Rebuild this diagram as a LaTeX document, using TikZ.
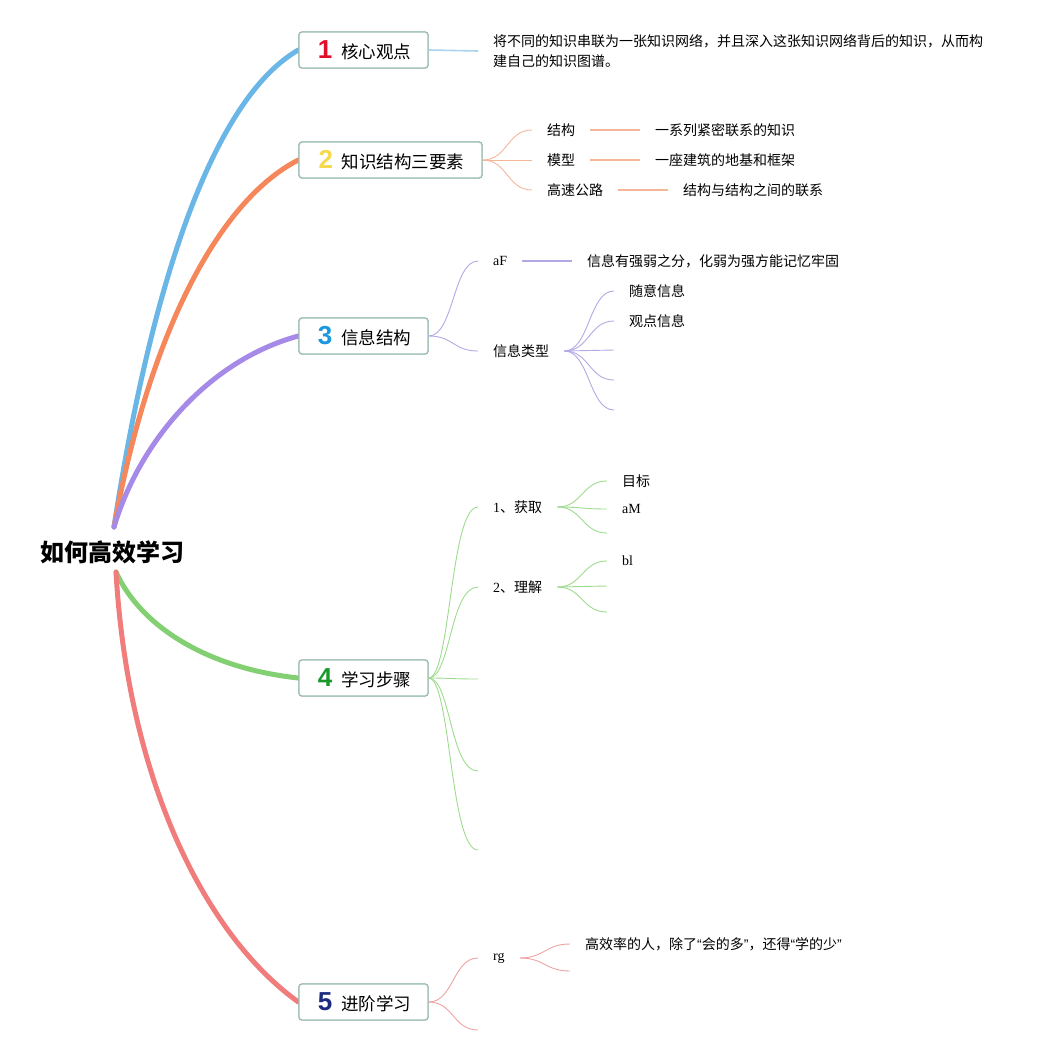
\documentclass[tikz,border=0pt]{standalone}
\usepackage{fontspec}
\setmainfont{Noto Sans CJK SC}
\newfontfamily\latf{Liberation Serif}
\newfontfamily\numf{Liberation Sans}
\definecolor{boxc}{HTML}{9DBFB4}
\definecolor{cb}{HTML}{6AB6E6}
\definecolor{co}{HTML}{F5875A}
\definecolor{cp}{HTML}{A68AE8}
\definecolor{cg}{HTML}{82D072}
\definecolor{cr}{HTML}{F07C7C}
\definecolor{tb}{HTML}{A9D3EE}
\definecolor{to}{HTML}{F5B698}
\definecolor{tp}{HTML}{B4A8E4}
\definecolor{tg}{HTML}{9EDB8E}
\definecolor{tr}{HTML}{F0A2A2}
\definecolor{n1c}{HTML}{E0102A}
\definecolor{n2c}{HTML}{F6D84C}
\definecolor{n3c}{HTML}{1A98DD}
\definecolor{n4c}{HTML}{1A9A2C}
\definecolor{n5c}{HTML}{1C2A80}
\tikzset{
  mainbox/.style={draw=boxc, line width=1.3pt, rounded corners=3pt, fill=white,
    minimum height=36pt, minimum width=129pt, inner sep=0pt,
    font=\fontsize{17.5}{20}\selectfont},
  leaf/.style={anchor=west, inner xsep=15pt, inner ysep=2pt, font=\fontsize{14}{20}\selectfont},
  thick branch/.style={line width=5pt, line cap=round},
  twig/.style={line width=0.9pt},
  bar/.style={line width=1.6pt},
}
\newcommand{\numlab}[2]{\hspace*{2pt}{\numf\bfseries\fontsize{26}{26}\selectfont\textcolor{#1}{#2}}\hspace{9pt}}
\newcommand{\myopq}{{\numf “}}
\newcommand{\myclq}{{\numf ”}}
\begin{document}
\begin{tikzpicture}[x=1pt,y=-1pt]
\useasboundingbox (0,0) rectangle (1053,1055);
% root
\node[font=\bfseries\fontsize{24}{28}\selectfont, inner sep=0pt] (root) at (112.5,552) {如何高效学习};
\coordinate (rup) at (114,527);
\coordinate (rdn) at (116,572);
% main nodes (positions)
\node[mainbox] (n1) at (363.5,50) {\numlab{n1c}{1}核心观点};
\node[mainbox, minimum width=183pt] (n2) at (390.5,160) {\numlab{n2c}{2}知识结构三要素};
\node[mainbox] (n3) at (363.5,336) {\numlab{n3c}{3}信息结构};
\node[mainbox] (n4) at (363.5,678) {\numlab{n4c}{4}学习步骤};
\node[mainbox] (n5) at (363.5,1002) {\numlab{n5c}{5}进阶学习};
% main curves
\draw[thick branch, cb] (rup) .. controls (155,260) and (220,95) .. (n1.west);
\draw[thick branch, co] (rup) .. controls (150,330) and (220,200) .. (n2.west);
\draw[thick branch, cp] (rup) .. controls (140,440) and (210,360) .. (n3.west);
\draw[thick branch, cg] (rdn) .. controls (140,625) and (205,668) .. (n4.west);
\draw[thick branch, cr] (rdn) .. controls (128,780) and (205,935) .. (n5.west);
% redraw boxes on top of curve ends
\node[mainbox] at (n1) {\numlab{n1c}{1}核心观点};
\node[mainbox, minimum width=183pt] at (n2) {\numlab{n2c}{2}知识结构三要素};
\node[mainbox] at (n3) {\numlab{n3c}{3}信息结构};
\node[mainbox] at (n4) {\numlab{n4c}{4}学习步骤};
\node[mainbox] at (n5) {\numlab{n5c}{5}进阶学习};
% ---- 1
\node[leaf, align=left] (t1) at (478,51) {将不同的知识串联为一张知识网络，并且深入这张知识网络背后的知识，从而构\\建自己的知识图谱。};
\draw[bar, tb] (n1.east) -- (t1.west);
% ---- 2
\node[leaf] (jg) at (532,130) {结构};
\node[leaf] (mx) at (532,160) {模型};
\node[leaf] (gs) at (532,190) {高速公路};
\node[leaf] (jgd) at (640,130) {一系列紧密联系的知识};
\node[leaf] (mxd) at (640,160) {一座建筑的地基和框架};
\node[leaf] (gsd) at (668,190) {结构与结构之间的联系};
\foreach \t in {jg,mx,gs}
  \draw[twig, to] (n2.east) .. controls +(25,0) and +(-25,0) .. (\t.west);
\draw[bar, to] (jg.east) -- (jgd.west);
\draw[bar, to] (mx.east) -- (mxd.west);
\draw[bar, to] (gs.east) -- (gsd.west);
% ---- 3
\node[leaf, font=\latf\fontsize{14}{20}\selectfont] (af) at (478,261) {aF};
\node[leaf] (afd) at (572,261) {信息有强弱之分，化弱为强方能记忆牢固};
\node[leaf] (lx) at (478,351) {信息类型};
\draw[twig, tp] (n3.east) .. controls +(25,0) and +(-25,0) .. (af.west);
\draw[twig, tp] (n3.east) .. controls +(25,0) and +(-25,0) .. (lx.west);
\draw[bar, tp] (af.east) -- (afd.west);
\node[leaf] (sy) at (614,291) {随意信息};
\node[leaf] (gd) at (614,321) {观点信息};
\coordinate (p3) at (614,350);
\coordinate (p4) at (614,380);
\coordinate (p5) at (614,410);
\foreach \t in {sy.west,gd.west,p3,p4,p5}
  \draw[twig, tp] (lx.east) .. controls +(25,0) and +(-25,0) .. (\t);
% ---- 4
\node[leaf] (hq) at (478,507) {{\latf 1}、获取};
\node[leaf] (lj) at (478,587) {{\latf 2}、理解};
\coordinate (q3) at (478,679);
\coordinate (q4) at (478,771);
\coordinate (q5) at (478,850);
\foreach \t in {hq.west,lj.west,q3,q4,q5}
  \draw[twig, tg] (n4.east) .. controls +(22,0) and +(-28,0) .. (\t);
\node[leaf] (mb) at (607,481) {目标};
\node[leaf, font=\latf\fontsize{14}{20}\selectfont] (am) at (607,509) {aM};
\coordinate (h3) at (607,533);
\foreach \t in {mb.west,am.west,h3}
  \draw[twig, tg] (hq.east) .. controls +(25,0) and +(-25,0) .. (\t);
\node[leaf, font=\latf\fontsize{14}{20}\selectfont] (bl) at (607,561) {bl};
\coordinate (l2) at (607,586);
\coordinate (l3) at (607,612);
\foreach \t in {bl.west,l2,l3}
  \draw[twig, tg] (lj.east) .. controls +(25,0) and +(-25,0) .. (\t);
% ---- 5
\node[leaf, font=\latf\fontsize{14}{20}\selectfont] (rg) at (478,958) {rg};
\coordinate (r2) at (478,1030);
\draw[twig, tr] (n5.east) .. controls +(25,0) and +(-25,0) .. (rg.west);
\draw[twig, tr] (n5.east) .. controls +(25,0) and +(-25,0) .. (r2);
\node[leaf] (gx) at (570,944) {高效率的人，除了\myopq 会的多\myclq ，还得\myopq 学的少\myclq};
\coordinate (g2) at (570,971);
\draw[twig, tr] (rg.east) .. controls +(25,0) and +(-25,0) .. (gx.west);
\draw[twig, tr] (rg.east) .. controls +(25,0) and +(-25,0) .. (g2);
\end{tikzpicture}
\end{document}
